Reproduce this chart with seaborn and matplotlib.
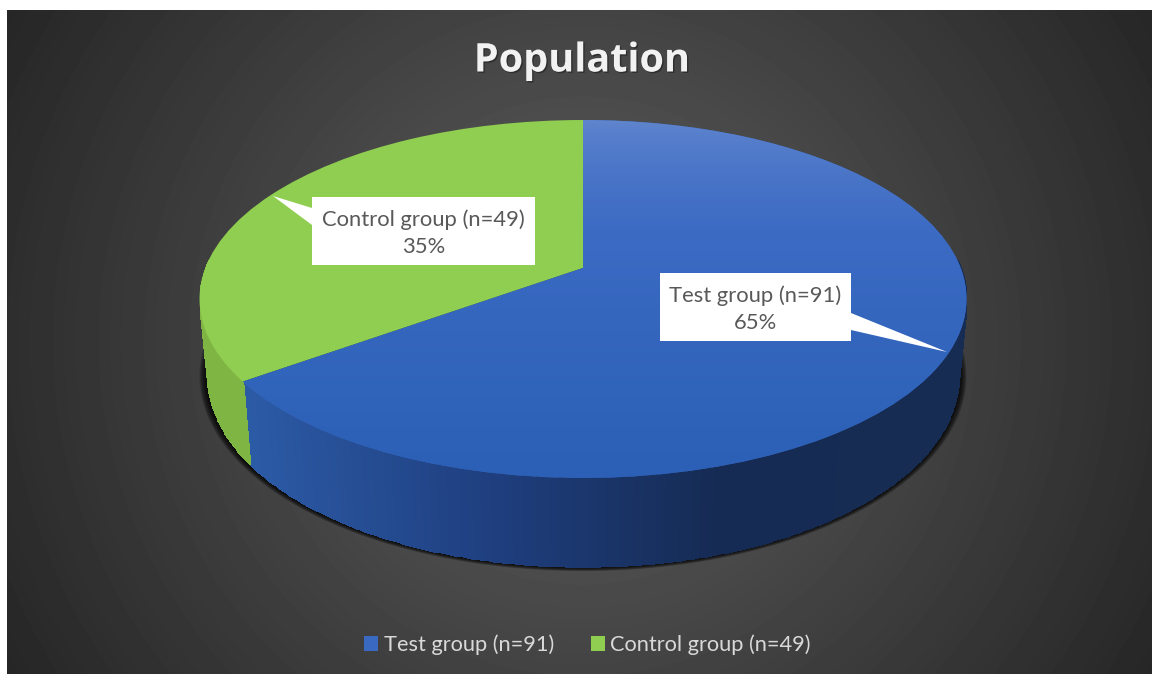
import numpy as np
import matplotlib
matplotlib.use("Agg")
import matplotlib.pyplot as plt
import matplotlib.patheffects as pe
import seaborn as sns
from matplotlib.colors import Normalize
from matplotlib.patches import Polygon
from matplotlib.transforms import Transform

# Study population
groups = ["Test group (n=91)", "Control group (n=49)"]
counts = [91, 49]
chart_title = "Population"

# Colours
top_blue_stops = ["#6488cf", "#3c6bc4", "#2b60b6"]
wall_blue_stops = ["#2c5ba6", "#1f3f80", "#152b53", "#162c52"]
top_green = "#8fce50"
wall_green = "#7fb643"
legend_blue = "#3a69c2"
label_grey = "#595959"

sns.set_theme(style="white")
plt.rcParams["font.family"] = ["Lato", "DejaVu Sans"]

W, H = 1152, 674
fig = plt.figure(figsize=(W / 100, H / 100), dpi=100, facecolor="white")
ax = fig.add_axes([0, 0, 1, 1])


class TiltedDisc(Transform):
    """Projects the pie's unit circle onto the page as a disc seen in perspective."""
    input_dims = output_dims = 2
    is_separable = False
    has_inverse = False

    def __init__(self, cx, cy, half_w, half_h, tilt):
        super().__init__()
        self.p = (cx, cy, half_w, half_h, tilt)

    def transform_non_affine(self, xy):
        cx, cy, bw, bh, k = self.p
        xy = np.asarray(xy, dtype=float)
        w = 1 + k * xy[:, 1]
        return np.column_stack([cx + bw * xy[:, 0] / w, cy - bh * xy[:, 1] / w])


top_disc = TiltedDisc(583, 268, 377.7, 173.6, 0.173)
base_disc = TiltedDisc(583, 343, 369.8, 185.0, 0.173)

# The slices themselves, with their angles from the counts
wedges, _ = ax.pie(counts, startangle=90, counterclock=False,
                   colors=[legend_blue, top_green], radius=1)
ax.set_aspect("auto")
ax.set_xlim(0, W)
ax.set_ylim(H, 0)
ax.set_frame_on(False)
ax.set_xticks([])
ax.set_yticks([])
to_page = ax.transData

# Panel backdrop: radial fade from the middle to the corners
yy, xx = np.mgrid[10:H, 7:W]
radius = np.hypot(xx - 582, yy - 340) / 665
ax.imshow(0x60 - (0x60 - 0x26) * np.clip(radius, 0, 1), cmap="gray", vmin=0, vmax=255,
          extent=(7, W, H, 10), aspect="auto", zorder=0, interpolation="bilinear")

# Tight soft shadow under the disc
ring = np.linspace(0, 2 * np.pi, 240)
unit = np.column_stack([np.cos(ring), np.sin(ring)])
base_xy = base_disc.transform(unit)
base_mid = base_xy.mean(axis=0)
for grow in np.linspace(8, 1, 8):
    scale = 1 + grow / 375
    grown = base_mid + (base_xy - base_mid) * scale
    ax.add_patch(Polygon(grown, closed=True, fc="black", ec="none", alpha=0.2, zorder=1))

# Side wall of each slice, shaded from left to right; only the near rim shows
blue_wall = sns.blend_palette(wall_blue_stops, as_cmap=True)
green_wall = sns.blend_palette([wall_green, wall_green], as_cmap=True)
for wedge, cmap in zip(wedges, [blue_wall, green_wall]):
    theta = np.radians(np.linspace(wedge.theta1, wedge.theta2, 400))
    theta = theta[np.sin(theta) < 0.05]
    rim = np.column_stack([np.cos(theta), np.sin(theta)])
    upper, lower = top_disc.transform(rim), base_disc.transform(rim)
    gx = np.vstack([upper[:, 0], lower[:, 0]])
    gy = np.vstack([upper[:, 1], lower[:, 1]])
    shade = ((upper[:-1, 0] + upper[1:, 0]) / 2)[None, :]
    ax.pcolormesh(gx, gy, shade, cmap=cmap, norm=Normalize(245, 960), shading="flat",
                  edgecolors="face", linewidth=0.4, zorder=2)

# Top faces
for wedge in wedges:
    wedge.set_transform(top_disc + to_page)
    wedge.set_zorder(3)
    wedge.set_edgecolor("none")

blue_top = sns.blend_palette(top_blue_stops, as_cmap=True)
ramp = np.linspace(0, 1, 256)[:, None] ** 0.6
sheen = ax.imshow(ramp, cmap=blue_top, extent=(190, 975, 480, 118), aspect="auto",
                  zorder=3.5, interpolation="bilinear")
sheen.set_clip_path(wedges[0])
ax.set_xlim(0, W)
ax.set_ylim(H, 0)

# Callout boxes with pointers
callouts = [
    dict(box=(660, 273, 851, 341), pointer=[(851, 313), (947, 352), (851, 330)]),
    dict(box=(312, 197, 535, 265), pointer=[(312, 208), (273, 196), (312, 225)]),
]
total = sum(counts)
for name, count, spec in zip(groups, counts, callouts):
    x0, y0, x1, y1 = spec["box"]
    ax.add_patch(Polygon(spec["pointer"], closed=True, fc="white", ec="none", zorder=4))
    ax.add_patch(Polygon([(x0, y0), (x1, y0), (x1, y1), (x0, y1)], closed=True,
                         fc="white", ec="none", zorder=4))
    ax.text((x0 + x1) / 2, (y0 + y1) / 2 + 2, f"{name}\n{count / total:.0%}", ha="center",
            va="center", color=label_grey, fontsize=15.8, linespacing=1.44, zorder=5)

ax.text(582, 61, chart_title, ha="center", va="center", color="#f2f2f2", fontsize=28.5,
        fontweight="bold", family=["Open Sans", "DejaVu Sans"], zorder=5,
        path_effects=[pe.withSimplePatchShadow(offset=(1, -1), shadow_rgbFace="black", alpha=0.35)])

legend = ax.legend(wedges, groups, loc="center", bbox_to_anchor=(587.5, 645),
                   bbox_transform=to_page, ncol=2, frameon=False, fontsize=15.7,
                   labelcolor="#d9d9d9", handlelength=0.64, handleheight=0.64,
                   handletextpad=0.25, columnspacing=1.68, borderpad=0, borderaxespad=0)
legend.set_zorder(5)

fig.savefig("out.png", dpi=100, facecolor="white")
